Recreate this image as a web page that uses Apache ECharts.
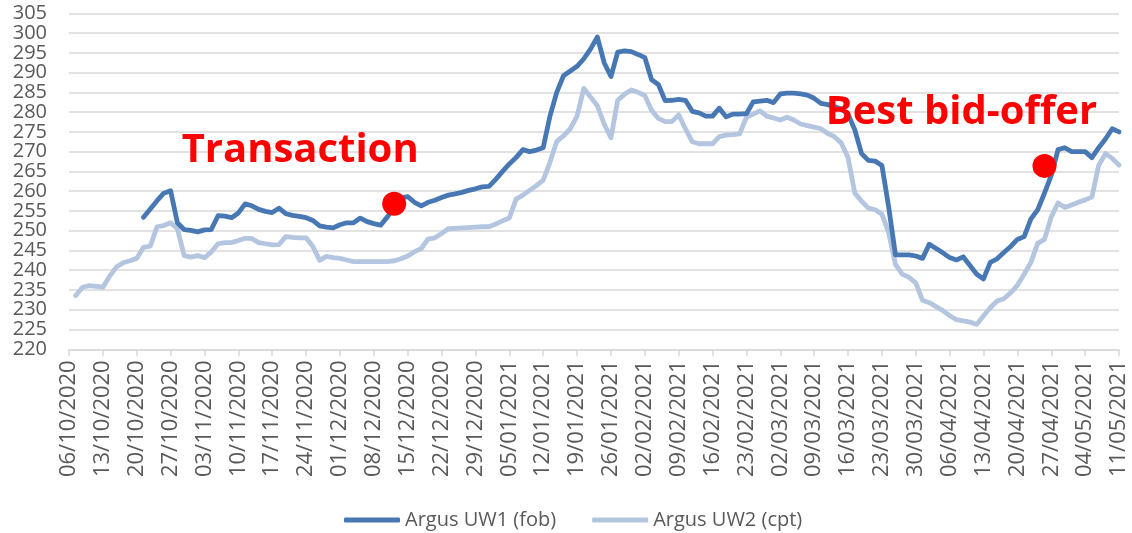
<!DOCTYPE html>
<html>
<head>
<meta charset="utf-8">
<script src="https://cdn.jsdelivr.net/npm/echarts@6/dist/echarts.min.js"></script>
<style>
html,body{margin:0;padding:0;background:#fff;}
#chart{width:1132px;height:533px;}
</style>
</head>
<body>
<div id="chart"></div>
<script>
// Business-day categories (Tue 06/10/2020 .. Tue 11/05/2021)
const startDate = '2020-10-06';
const endDate = '2021-05-11';
const seriesNames = ['Argus UW1 (fob)', 'Argus UW2 (cpt)'];

const uw1 = [null,null,null,null,null,null,null,null,null,null,null,
253.4,255.5,257.6,259.5,260.1,252.0,250.3,250.1,249.7,250.2,
250.3,253.8,253.7,253.3,254.5,256.8,256.3,255.4,254.9,254.6,
255.7,254.3,253.9,253.6,253.3,252.6,251.2,250.9,250.7,251.5,
252.0,252.0,253.2,252.3,251.8,251.4,253.5,256.0,258.3,258.6,
257.2,256.3,257.2,257.7,258.4,259.0,259.3,259.7,260.2,260.6,
261.1,261.2,263.0,265.0,266.9,268.5,270.5,270.0,270.4,271.0,
279.0,285.0,289.2,290.4,291.6,293.5,296.0,299.0,292.5,289.0,
295.2,295.5,295.3,294.6,293.8,288.2,287.0,282.9,283.0,283.2,
283.0,280.2,279.8,279.0,279.0,281.0,278.8,279.5,279.5,279.6,
282.6,282.8,283.0,282.4,284.6,284.8,284.8,284.6,284.3,283.5,
282.2,281.9,281.4,280.8,279.5,275.5,269.5,267.8,267.6,266.5,
256.0,243.9,243.9,243.9,243.6,243.0,246.6,245.5,244.4,243.2,
242.6,243.4,241.2,239.0,237.8,242.0,242.9,244.5,246.0,247.8,
248.5,253.0,255.3,259.5,264.0,270.5,271.0,270.0,270.0,270.0,
268.5,271.0,273.2,275.8,275.0];

const uw2 = [null,
233.6,235.7,236.1,235.9,235.7,238.5,240.8,241.9,242.4,243.0,
245.8,246.1,251.0,251.3,252.0,250.5,243.7,243.3,243.7,243.2,
244.6,246.7,247.0,247.0,247.5,248.1,248.0,247.0,246.7,246.4,
246.5,248.5,248.3,248.2,248.2,246.0,242.5,243.5,243.2,243.0,
242.6,242.2,242.2,242.2,242.2,242.2,242.2,242.4,242.9,243.6,
244.7,245.5,247.9,248.2,249.3,250.5,250.6,250.7,250.8,250.9,
251.0,251.0,251.7,252.5,253.2,258.0,259.0,260.2,261.4,262.8,
267.3,272.6,274.0,275.8,279.0,286.0,283.8,281.6,277.0,273.5,
283.0,284.5,285.6,285.0,284.2,280.5,278.4,277.6,277.6,279.3,
275.8,272.5,272.0,272.0,272.0,273.8,274.2,274.3,274.5,278.7,
279.5,280.3,279.0,278.5,278.0,278.7,278.0,277.0,276.6,276.2,
275.8,274.6,273.8,272.2,268.5,259.5,257.5,255.7,255.3,254.2,
249.5,241.5,239.0,238.2,236.8,232.4,231.8,230.8,229.8,228.5,
227.5,227.2,226.9,226.3,228.5,230.5,232.2,232.8,234.3,236.2,
239.0,242.0,246.8,247.8,253.5,257.0,255.9,256.5,257.2,257.8,
258.5,266.5,269.5,268.3,266.6];

const annotationLabels = ['Transaction', 'Best bid-offer'];
const annotationDates = ['11/12/2020', '26/04/2021'];
const annotationValues = [256.8, 266.4];

const yMin = 220, yMax = 305, yStep = 5;

function pad(n){ return (n < 10 ? '0' : '') + n; }
const categories = [];
(function(){
  const d = new Date(startDate + 'T00:00:00');
  const e = new Date(endDate + 'T00:00:00');
  while (d <= e) {
    const wd = d.getDay();
    if (wd !== 0 && wd !== 6) {
      categories.push(pad(d.getDate()) + '/' + pad(d.getMonth() + 1) + '/' + d.getFullYear());
    }
    d.setDate(d.getDate() + 1);
  }
})();

const FONT = "'Open Sans', 'Noto Sans', sans-serif";
const TEXT = '#595959';
const DARK = '#4878B4';
const LIGHT = '#B4C5E0';

// two overlaid left axes share the scale; each shows alternate tick labels so none get auto-hidden
function yAxisDef(showTens, withGrid) {
  return {
    type: 'value', min: yMin, max: yMax, interval: yStep, position: 'left',
    axisLine: {show: false}, axisTick: {show: false},
    axisLabel: {margin: 22, fontFamily: FONT, fontSize: 20, color: TEXT,
      showMinLabel: true, showMaxLabel: true,
      formatter: v => ((Math.round(v) % 10 === 0) === showTens ? String(Math.round(v)) : '')},
    splitLine: {show: withGrid, lineStyle: {color: '#D9D9D9', width: 1.5}}
  };
}

const chart = echarts.init(document.getElementById('chart'), null, {renderer: 'canvas'});
chart.setOption({
  animation: false,
  backgroundColor: '#fff',
  grid: {left: 69, right: 13, top: 13.3, bottom: 183.7, containLabel: false},
  legend: {
    data: seriesNames,
    left: 339, top: 505,
    icon: 'roundRect', itemWidth: 56, itemHeight: 5, itemGap: 36,
    textStyle: {fontFamily: FONT, fontSize: 20, color: TEXT}
  },
  xAxis: {
    type: 'category', data: categories, boundaryGap: false,
    axisLine: {lineStyle: {color: '#D9D9D9', width: 1.5}},
    axisTick: {show: true, interval: 4, length: 7, lineStyle: {color: '#D9D9D9', width: 1.5}},
    axisLabel: {interval: 4, rotate: 90, margin: 11, fontFamily: FONT, fontSize: 22, color: TEXT,
      showMinLabel: true, showMaxLabel: true, hideOverlap: false},
    splitLine: {show: false}
  },
  yAxis: [yAxisDef(true, true), yAxisDef(false, false)],
  series: [
    {name: seriesNames[0], type: 'line', data: uw1, showSymbol: false, symbol: 'none',
     lineStyle: {color: DARK, width: 4.8, join: 'round', cap: 'round'}, itemStyle: {color: DARK}, z: 3},
    {name: seriesNames[1], type: 'line', data: uw2, showSymbol: false, symbol: 'none',
     lineStyle: {color: LIGHT, width: 4.8, join: 'round', cap: 'round'}, itemStyle: {color: LIGHT}, z: 2},
    {name: 'annotations', type: 'scatter', symbol: 'circle', symbolSize: 24, z: 5,
     itemStyle: {color: '#FF0000', opacity: 1},
     data: annotationDates.map((d, i) => ({
       value: [d, annotationValues[i]],
       label: {
         show: true, formatter: annotationLabels[i], position: 'inside',
         offset: i === 0 ? [-94, -53] : [-83, -53],
         fontFamily: FONT, fontWeight: 'bold', fontSize: 40, color: '#FF0000'
       }
     }))
    }
  ]
});
</script>
</body>
</html>
